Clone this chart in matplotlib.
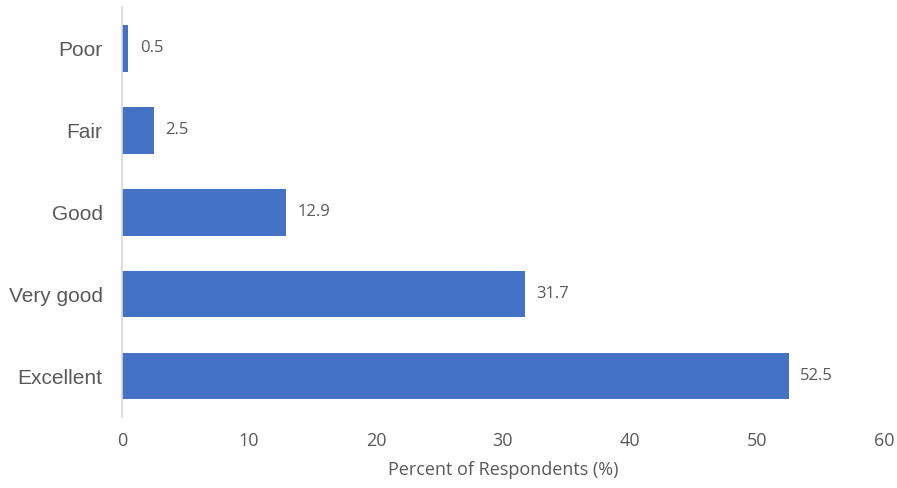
import numpy as np
import matplotlib
matplotlib.use("Agg")
import matplotlib.pyplot as plt

# data
categories = ['Excellent', 'Very good', 'Good', 'Fair', 'Poor']
percent = [52.5, 31.7, 12.9, 2.5, 0.5]
xticks = [0, 10, 20, 30, 40, 50, 60]

BAR_COLOR = '#4472C4'
TEXT_COLOR = '#595959'

fig = plt.figure(figsize=(8.97, 4.88), dpi=100)
ax = fig.add_axes([0.136, 0.1455, 0.8495, 0.8395])

ypos = np.arange(len(categories))
bars = ax.barh(ypos, percent, height=0.57, color=BAR_COLOR)

# value labels
for b, v in zip(bars, percent):
    ax.text(b.get_width() + 0.9, b.get_y() + b.get_height() / 2, '{:.1f}'.format(v),
            va='center', ha='left', fontsize=12, color=TEXT_COLOR, family='Open Sans')

ax.set_xlim(0, 60)
ax.set_ylim(-0.5, 4.5)
ax.set_xticks(xticks)
ax.set_xticklabels([str(t) for t in xticks], fontsize=13, color=TEXT_COLOR, family='Open Sans')
ax.set_yticks(ypos)
ax.set_yticklabels(categories, fontsize=15, color=TEXT_COLOR, family='Liberation Sans')
ax.tick_params(axis='both', length=0)
ax.tick_params(axis='x', pad=11)
ax.tick_params(axis='y', pad=14)

for s in ['top', 'right', 'bottom']:
    ax.spines[s].set_visible(False)
ax.spines['left'].set_color('#D9D9D9')
ax.spines['left'].set_linewidth(1.2)

ax.set_xlabel('Percent of Respondents (%)', fontsize=13, color=TEXT_COLOR,
              family='Open Sans', labelpad=8)

fig.savefig('out.png', dpi=100)
